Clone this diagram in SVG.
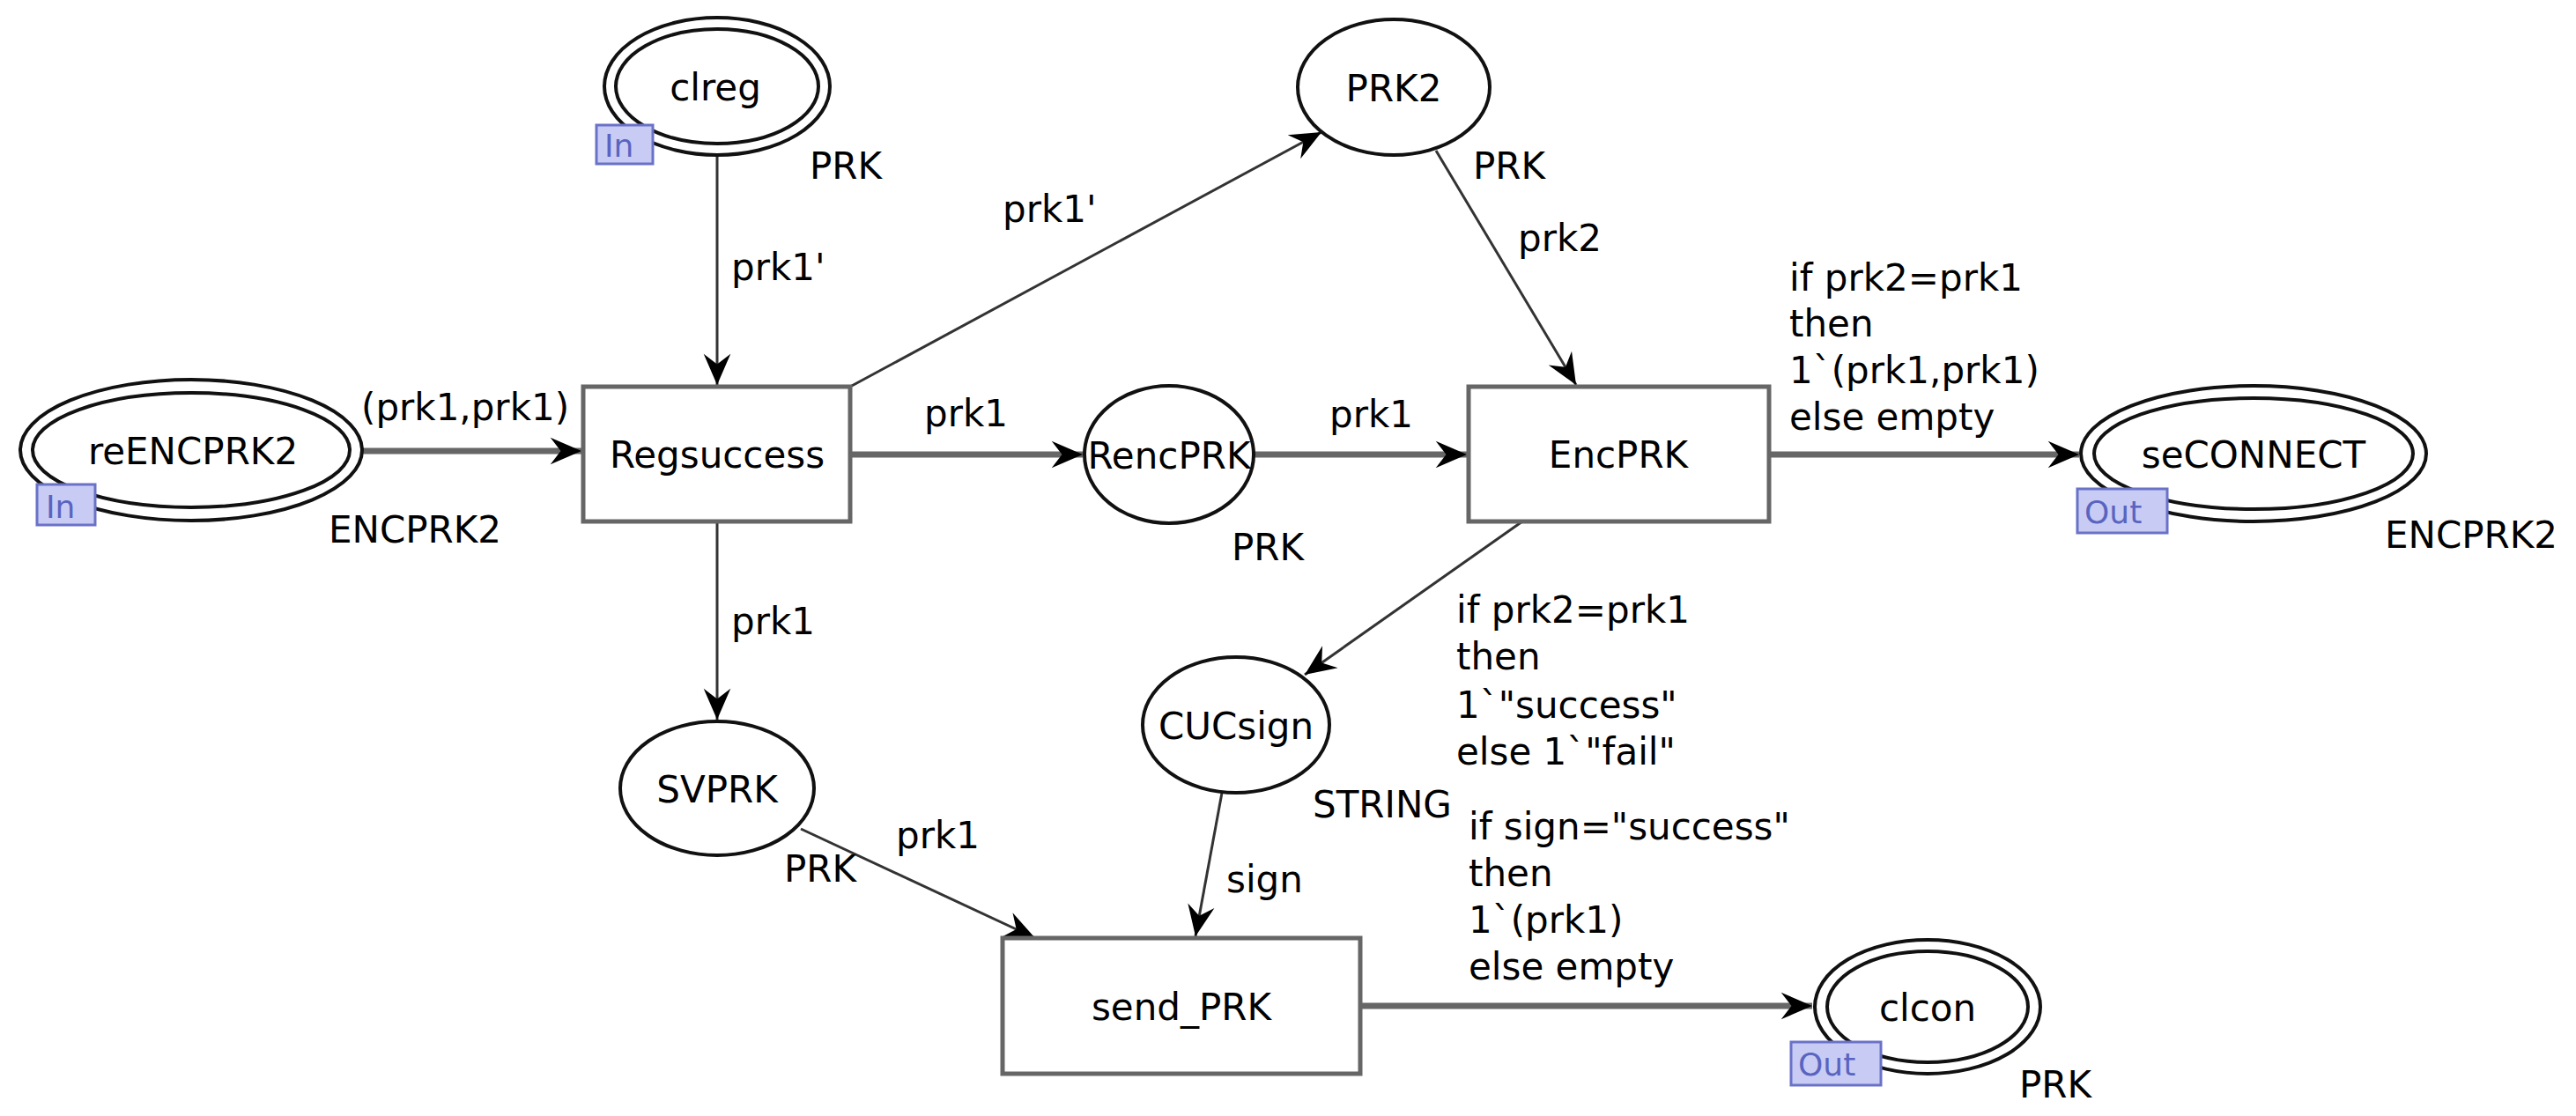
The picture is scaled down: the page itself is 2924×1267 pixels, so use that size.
<svg xmlns="http://www.w3.org/2000/svg" width="2924" height="1267" viewBox="0 0 2924 1267">
<style>
text{font-family:"DejaVu Sans","Liberation Sans",sans-serif;font-size:42px;fill:#000}
.c{text-anchor:middle}
.pl{fill:#fff;stroke:#111;stroke-width:4}
.tr{fill:#fff;stroke:#666;stroke-width:5}
.arc{fill:none;stroke:#333;stroke-width:3;marker-end:url(#ah)}
.arcw{fill:none;stroke:#666;stroke-width:7;marker-end:url(#ah)}
.port{fill:#c8ccf4;stroke:#6a72c8;stroke-width:3}
.pt{font-size:36px;fill:#5a64c0}
</style>
<defs>
<marker id="ah" markerUnits="userSpaceOnUse" markerWidth="40" markerHeight="40" viewBox="-32 -16 34 32" refX="0" refY="0" orient="auto">
<path d="M0,0 L-30,-13 L-20,0 L-30,13 z" fill="#000"/>
</marker>
</defs>
<g id="connectors">
<line class="arc" x1="814" y1="176" x2="814" y2="437"/>
<text x="830" y="318">prk1'</text>
<line class="arcw" x1="412" y1="512" x2="660" y2="512"/>
<text x="410" y="477">(prk1,prk1)</text>
<line class="arcw" x1="965" y1="516" x2="1229" y2="516"/>
<text x="1049" y="484">prk1</text>
<line class="arc" x1="965" y1="439" x2="1500" y2="150"/>
<text x="1138" y="252">prk1'</text>
<line class="arc" x1="1630" y1="171" x2="1789" y2="437"/>
<text x="1723" y="285">prk2</text>
<line class="arcw" x1="1424" y1="516" x2="1665" y2="516"/>
<text x="1509" y="485">prk1</text>
<line class="arcw" x1="2008" y1="516" x2="2360" y2="516"/>
<text x="2031" y="330">if prk2=prk1</text>
<text x="2031" y="382">then</text>
<text x="2031" y="435">1`(prk1,prk1)</text>
<text x="2031" y="488">else empty</text>
<line class="arc" x1="814" y1="592" x2="814" y2="817"/>
<text x="830" y="720">prk1</text>
<line class="arc" x1="909" y1="941" x2="1175" y2="1065"/>
<text x="1017" y="963">prk1</text>
<line class="arc" x1="1728" y1="592" x2="1481" y2="766"/>
<text x="1653" y="707">if prk2=prk1</text>
<text x="1653" y="760">then</text>
<text x="1653" y="815">1`"success"</text>
<text x="1653" y="868">else 1`"fail"</text>
<line class="arc" x1="1387" y1="900" x2="1357" y2="1063"/>
<text x="1392" y="1013">sign</text>
<line class="arcw" x1="1544" y1="1142" x2="2057" y2="1142"/>
<text x="1667" y="953">if sign="success"</text>
<text x="1667" y="1006">then</text>
<text x="1667" y="1059">1`(prk1)</text>
<text x="1667" y="1112">else empty</text>
</g>
<g id="clreg">
<ellipse class="pl" cx="814" cy="98" rx="128" ry="78"/>
<ellipse class="pl" cx="814" cy="98" rx="115" ry="65"/>
<text class="c" x="812" y="114">clreg</text>
<rect class="port" x="677" y="142" width="64" height="44"/>
<text class="pt" x="686" y="178">In</text>
<text x="919" y="203">PRK</text>
</g>
<g id="reENCPRK2">
<ellipse class="pl" cx="217" cy="511" rx="194" ry="80"/>
<ellipse class="pl" cx="217" cy="511" rx="180" ry="65"/>
<text class="c" x="219" y="527">reENCPRK2</text>
<rect class="port" x="42" y="550" width="66" height="46"/>
<text class="pt" x="52" y="588">In</text>
<text x="373" y="616">ENCPRK2</text>
</g>
<g id="Regsuccess">
<rect class="tr" x="662" y="439" width="303" height="153"/>
<text class="c" x="814" y="531">Regsuccess</text>
</g>
<g id="RencPRK">
<ellipse class="pl" cx="1327" cy="516" rx="96" ry="78"/>
<text class="c" x="1327" y="532">RencPRK</text>
<text x="1398" y="636">PRK</text>
</g>
<g id="PRK2">
<ellipse class="pl" cx="1582" cy="99" rx="109" ry="77"/>
<text class="c" x="1582" y="115">PRK2</text>
<text x="1672" y="203">PRK</text>
</g>
<g id="EncPRK">
<rect class="tr" x="1667" y="439" width="341" height="153"/>
<text class="c" x="1837" y="531">EncPRK</text>
</g>
<g id="seCONNECT">
<ellipse class="pl" cx="2558" cy="515" rx="196" ry="77"/>
<ellipse class="pl" cx="2558" cy="515" rx="181" ry="63"/>
<text class="c" x="2558" y="531">seCONNECT</text>
<rect class="port" x="2358" y="555" width="102" height="50"/>
<text class="pt" x="2366" y="594">Out</text>
<text x="2707" y="622">ENCPRK2</text>
</g>
<g id="SVPRK">
<ellipse class="pl" cx="814" cy="895" rx="110" ry="76"/>
<text class="c" x="814" y="911">SVPRK</text>
<text x="890" y="1001">PRK</text>
</g>
<g id="CUCsign">
<ellipse class="pl" cx="1403" cy="823" rx="106" ry="77"/>
<text class="c" x="1403" y="839">CUCsign</text>
<text x="1490" y="928">STRING</text>
</g>
<g id="send_PRK">
<rect class="tr" x="1138" y="1065" width="406" height="154"/>
<text class="c" x="1341" y="1158">send_PRK</text>
</g>
<g id="clcon">
<ellipse class="pl" cx="2188" cy="1143" rx="128" ry="76"/>
<ellipse class="pl" cx="2188" cy="1143" rx="114" ry="63"/>
<text class="c" x="2188" y="1159">clcon</text>
<rect class="port" x="2033" y="1183" width="102" height="49"/>
<text class="pt" x="2041" y="1221">Out</text>
<text x="2292" y="1246">PRK</text>
</g>
</svg>
